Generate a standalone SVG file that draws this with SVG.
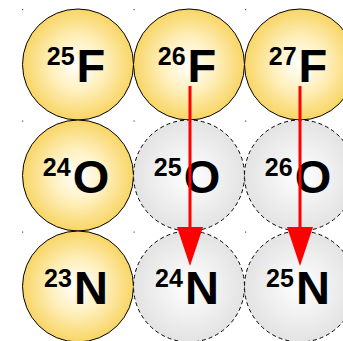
<svg xmlns="http://www.w3.org/2000/svg" width="343" height="341" viewBox="0 0 343 341">
  <defs>
    <radialGradient id="gradYellow" cx="0.5" cy="0.5" r="0.5">
      <stop offset="0" stop-color="#ffffff"/>
      <stop offset="0.45" stop-color="#fff1c2"/>
      <stop offset="1" stop-color="#f8d565"/>
    </radialGradient>
    <radialGradient id="gradGray" cx="0.5" cy="0.5" r="0.5">
      <stop offset="0" stop-color="#ffffff"/>
      <stop offset="1" stop-color="#e3e3e3"/>
    </radialGradient>
    <!-- arrowhead drawn along +x so orient="auto" turns it with the line;
         the shaft ends 26px before the tip, inside the head -->
    <marker id="arrowHead" viewBox="0 0 39 26" refX="13" refY="13" markerWidth="39" markerHeight="26" markerUnits="userSpaceOnUse" orient="auto">
      <path d="M0,0 L39,13 L0,26 Z" fill="#ff0000"/>
    </marker>
    <style>
      .stable { fill: url(#gradYellow); stroke: #000; stroke-width: 1; }
      .unbound { fill: url(#gradGray); stroke: #000; stroke-width: 1; stroke-dasharray: 4 3; }
      .label { font-family: "Liberation Sans", Arial, sans-serif; font-weight: bold; font-size: 47px; fill: #000; text-anchor: middle; }
      .mass { font-size: 25px; }
      .dot { fill: #555; }
      .decay { stroke: #ff0000; stroke-width: 3; fill: none; }
    </style>
  </defs>

  <!-- grid corner dots -->
  <g id="grid-dots">
    <rect class="dot" x="22" y="9" width="1.2" height="1.2"/>
    <rect class="dot" x="133.5" y="9" width="1.2" height="1.2"/>
    <rect class="dot" x="245" y="9" width="1.2" height="1.2"/>
    <rect class="dot" x="22" y="120.5" width="1.2" height="1.2"/>
    <rect class="dot" x="133.5" y="120.5" width="1.2" height="1.2"/>
    <rect class="dot" x="245" y="120.5" width="1.2" height="1.2"/>
    <rect class="dot" x="22" y="231.5" width="1.2" height="1.2"/>
    <rect class="dot" x="133.5" y="231.5" width="1.2" height="1.2"/>
    <rect class="dot" x="245" y="231.5" width="1.2" height="1.2"/>
  </g>

  <!-- row 1: fluorine -->
  <g id="F25">
    <circle class="stable" cx="78" cy="64.5" r="55.5"/>
    <text class="label" x="76" y="82"><tspan class="mass" dy="-17">25</tspan><tspan dx="2" dy="17">F</tspan></text>
  </g>
  <g id="F26">
    <circle class="stable" cx="189" cy="64.5" r="55.5"/>
    <text class="label" x="187" y="82"><tspan class="mass" dy="-17">26</tspan><tspan dx="2" dy="17">F</tspan></text>
  </g>
  <g id="F27">
    <circle class="stable" cx="300" cy="64.5" r="55.5"/>
    <text class="label" x="298" y="82"><tspan class="mass" dy="-17">27</tspan><tspan dx="2" dy="17">F</tspan></text>
  </g>

  <!-- row 2: oxygen -->
  <g id="O24">
    <circle class="stable" cx="78" cy="175.5" r="55.5"/>
    <text class="label" x="76" y="193"><tspan class="mass" dy="-17">24</tspan><tspan dx="2" dy="17">O</tspan></text>
  </g>
  <g id="O25">
    <circle class="unbound" cx="189" cy="175.5" r="55.5"/>
    <text class="label" x="187" y="193"><tspan class="mass" dy="-17">25</tspan><tspan dx="2" dy="17">O</tspan></text>
  </g>
  <g id="O26">
    <circle class="unbound" cx="300" cy="175.5" r="55.5"/>
    <text class="label" x="298" y="193"><tspan class="mass" dy="-17">26</tspan><tspan dx="2" dy="17">O</tspan></text>
  </g>

  <!-- row 3: nitrogen -->
  <g id="N23">
    <circle class="stable" cx="78" cy="286.5" r="55.5"/>
    <text class="label" x="76" y="304"><tspan class="mass" dy="-17">23</tspan><tspan dx="2" dy="17">N</tspan></text>
  </g>
  <g id="N24">
    <circle class="unbound" cx="189" cy="286.5" r="55.5"/>
    <text class="label" x="187" y="304"><tspan class="mass" dy="-17">24</tspan><tspan dx="2" dy="17">N</tspan></text>
  </g>
  <g id="N25">
    <circle class="unbound" cx="300" cy="286.5" r="55.5"/>
    <text class="label" x="298" y="304"><tspan class="mass" dy="-17">25</tspan><tspan dx="2" dy="17">N</tspan></text>
  </g>

  <!-- decay arrows -->
  <g id="connectors">
    <path class="decay" d="M190,86 V240" marker-end="url(#arrowHead)"/>
    <path class="decay" d="M300,86 V240" marker-end="url(#arrowHead)"/>
  </g>
</svg>
